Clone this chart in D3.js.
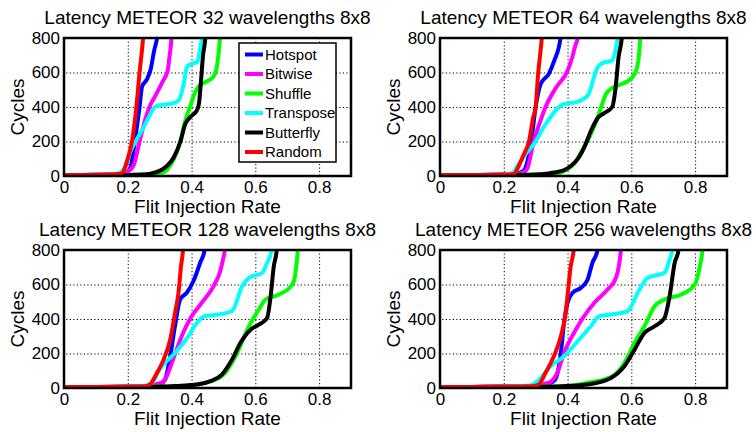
<!DOCTYPE html>
<html>
<head>
<meta charset="utf-8">
<style>
body { margin: 0; background: #fff; }
svg { font-family: "Liberation Sans", Arial, Helvetica, sans-serif; display: block; }
.grid line { stroke: #000; stroke-width: 1; stroke-dasharray: 1.2,2.3; }
.grid path { display: none; }
.box { fill: none; stroke: #000; stroke-width: 2.5; }
.series { fill: none; stroke-width: 4; stroke-linejoin: round; stroke-linecap: butt; }
.tick text { font-family: "Liberation Sans", Arial, Helvetica, sans-serif; font-size: 17px; fill: #000; }
.title, .xlabel, .ylabel { font-size: 19px; fill: #000; }
.legend text { font-size: 15px; fill: #000; }
</style>
</head>
<body>
<script src="https://d3js.org/d3.v7.min.js"></script>
<script>
// series names + colours (legend order = draw order)
var names = ["Hotspot", "Bitwise", "Shuffle", "Transpose", "Butterfly", "Random"];
var colors = ["#0000ff", "#ff00ff", "#00ff00", "#00ffff", "#000000", "#ff0000"];
var wavelengths = [32, 64, 128, 256];
var xTicks = [0, 0.2, 0.4, 0.6, 0.8];
var yTicks = [0, 200, 400, 600, 800];

// ---- 32 wavelengths ----
var hotspot32 = [[0,5],[0.1,7],[0.18,12],[0.2,25],[0.21,60],[0.222,200],[0.237,400],[0.245,520],[0.26,560],[0.272,620],[0.282,720],[0.292,800],[0.3,900]];
var bitwise32 = [[0,5],[0.1,7],[0.18,12],[0.2,25],[0.218,60],[0.237,200],[0.255,330],[0.268,400],[0.288,470],[0.31,550],[0.325,610],[0.33,680],[0.337,800],[0.34,900]];
var shuffle32 = [[0,3],[0.1,4],[0.2,6],[0.28,10],[0.31,20],[0.325,40],[0.345,100],[0.365,200],[0.38,320],[0.395,400],[0.41,480],[0.425,525],[0.45,550],[0.47,580],[0.48,640],[0.489,800],[0.492,900]];
var transpose32 = [[0,5],[0.1,7],[0.17,15],[0.19,50],[0.21,150],[0.224,200],[0.24,250],[0.266,340],[0.285,400],[0.3,410],[0.34,420],[0.36,440],[0.375,530],[0.385,630],[0.4,650],[0.418,660],[0.425,720],[0.432,800],[0.436,900]];
var butterfly32 = [[0,3],[0.1,4],[0.2,6],[0.26,10],[0.28,18],[0.3,30],[0.323,58],[0.344,107],[0.365,200],[0.38,300],[0.395,340],[0.418,385],[0.424,430],[0.43,560],[0.436,700],[0.443,800],[0.446,900]];
var random32 = [[0,5],[0.05,6],[0.1,7],[0.15,10],[0.18,15],[0.2,100],[0.213,200],[0.227,400],[0.237,600],[0.248,800],[0.252,900]];

// ---- 64 wavelengths ----
var hotspot64 = [[0,5],[0.1,6],[0.2,8],[0.24,15],[0.262,30],[0.268,48],[0.286,200],[0.3,400],[0.315,530],[0.342,595],[0.358,667],[0.378,800],[0.384,900]];
var bitwise64 = [[0,5],[0.1,6],[0.2,8],[0.25,14],[0.265,25],[0.273,40],[0.294,200],[0.315,320],[0.331,400],[0.363,510],[0.4,610],[0.415,690],[0.425,760],[0.432,800],[0.436,900]];
var shuffle64 = [[0,3],[0.1,4],[0.2,5],[0.3,8],[0.35,12],[0.38,20],[0.4,40],[0.42,70],[0.44,130],[0.473,242],[0.494,338],[0.505,396],[0.52,474],[0.542,512],[0.568,532],[0.59,551],[0.61,590],[0.622,670],[0.628,800],[0.631,900]];
var transpose64 = [[0,5],[0.1,6],[0.2,9],[0.23,20],[0.24,50],[0.268,126],[0.294,184],[0.331,300],[0.368,390],[0.385,415],[0.43,430],[0.463,465],[0.494,630],[0.51,655],[0.54,670],[0.552,745],[0.557,800],[0.56,900]];
var butterfly64 = [[0,3],[0.1,4],[0.2,5],[0.3,8],[0.34,15],[0.358,20],[0.39,35],[0.41,58],[0.431,96],[0.452,165],[0.473,260],[0.494,335],[0.515,365],[0.54,400],[0.55,500],[0.56,690],[0.57,800],[0.574,900]];
var random64 = [[0,5],[0.1,6],[0.2,8],[0.232,12],[0.245,50],[0.263,126],[0.279,200],[0.292,338],[0.3,400],[0.308,600],[0.315,720],[0.319,800],[0.322,900]];

// ---- 128 wavelengths ----
var hotspot128 = [[0,5],[0.1,6],[0.2,8],[0.28,12],[0.305,25],[0.317,48],[0.333,184],[0.348,358],[0.364,513],[0.385,552],[0.406,620],[0.427,726],[0.441,800],[0.447,900]];
var bitwise128 = [[0,5],[0.1,6],[0.2,8],[0.26,12],[0.29,22],[0.31,35],[0.32,60],[0.338,145],[0.369,300],[0.396,403],[0.432,494],[0.469,591],[0.49,678],[0.498,740],[0.504,800],[0.507,900]];
var shuffle128 = [[0,3],[0.1,4],[0.2,5],[0.3,8],[0.4,15],[0.45,35],[0.495,68],[0.538,184],[0.58,358],[0.611,455],[0.632,513],[0.674,542],[0.716,600],[0.726,668],[0.733,800],[0.736,900]];
var transpose128 = [[0,5],[0.1,6],[0.2,8],[0.26,15],[0.28,39],[0.3,110],[0.317,145],[0.348,203],[0.39,300],[0.417,378],[0.443,417],[0.485,426],[0.527,446],[0.559,591],[0.58,639],[0.622,668],[0.637,726],[0.651,800],[0.655,900]];
var butterfly128 = [[0,3],[0.1,4],[0.2,5],[0.3,8],[0.35,12],[0.417,20],[0.46,40],[0.495,78],[0.527,165],[0.553,261],[0.585,338],[0.611,367],[0.637,406],[0.648,532],[0.658,707],[0.667,800],[0.67,900]];
var random128 = [[0,5],[0.1,6],[0.2,8],[0.255,10],[0.272,25],[0.286,68],[0.312,163],[0.333,280],[0.348,434],[0.359,552],[0.367,707],[0.373,800],[0.376,900]];

// ---- 256 wavelengths ----
var hotspot256 = [[0,5],[0.1,6],[0.2,8],[0.3,12],[0.34,25],[0.36,45],[0.379,203],[0.389,378],[0.4,494],[0.416,552],[0.442,581],[0.463,629],[0.478,726],[0.494,800],[0.5,900]];
var bitwise256 = [[0,5],[0.1,6],[0.2,8],[0.3,12],[0.33,25],[0.35,40],[0.368,88],[0.389,203],[0.42,319],[0.447,403],[0.484,494],[0.526,572],[0.552,639],[0.562,720],[0.567,800],[0.57,900]];
var shuffle256 = [[0,3],[0.1,4],[0.2,5],[0.3,7],[0.4,12],[0.462,30],[0.541,68],[0.578,145],[0.61,261],[0.641,358],[0.673,474],[0.704,513],[0.757,542],[0.799,600],[0.815,707],[0.823,800],[0.826,900]];
var transpose256 = [[0,5],[0.1,6],[0.2,8],[0.28,14],[0.305,39],[0.347,126],[0.389,184],[0.436,280],[0.473,358],[0.5,417],[0.536,426],[0.589,446],[0.62,552],[0.652,639],[0.704,668],[0.72,745],[0.728,800],[0.731,900]];
var butterfly256 = [[0,3],[0.1,4],[0.2,5],[0.3,7],[0.4,12],[0.462,20],[0.536,58],[0.578,126],[0.61,222],[0.641,319],[0.673,358],[0.704,406],[0.72,532],[0.736,726],[0.748,800],[0.751,900]];
var random256 = [[0,5],[0.1,6],[0.2,8],[0.29,10],[0.31,20],[0.331,88],[0.357,184],[0.379,300],[0.394,434],[0.402,572],[0.41,707],[0.419,800],[0.422,900]];

var panelData = [
  [hotspot32, bitwise32, shuffle32, transpose32, butterfly32, random32],
  [hotspot64, bitwise64, shuffle64, transpose64, butterfly64, random64],
  [hotspot128, bitwise128, shuffle128, transpose128, butterfly128, random128],
  [hotspot256, bitwise256, shuffle256, transpose256, butterfly256, random256]
];

(function() {
  var W = 756, H = 432,
      w = 287, h = 138,
      lefts = [64, 440],
      tops = [38, 250];

  var svg = d3.select("body").append("svg")
    .attr("width", W)
    .attr("height", H);

  svg.append("rect").attr("width", W).attr("height", H).attr("fill", "#fff");

  var x = d3.scaleLinear().domain([0, 0.9]).range([0, w]);
  var y = d3.scaleLinear().domain([0, 800]).range([h, 0]);

  var line = d3.line()
    .x(function(d) { return x(d[0]); })
    .y(function(d) { return y(d[1]); })
    .curve(d3.curveMonotoneX);

  svg.append("defs").append("clipPath").attr("id", "plotclip")
    .append("rect").attr("width", w).attr("height", h);

  panelData.forEach(function(series, p) {
    var g = svg.append("g")
      .attr("transform", "translate(" + lefts[p % 2] + "," + tops[Math.floor(p / 2)] + ")");

    g.append("rect").attr("width", w).attr("height", h).attr("fill", "#fff");

    // dotted grid
    g.append("g").attr("class", "grid")
      .call(d3.axisBottom(x).tickValues([0.2, 0.4, 0.6, 0.8]).tickSize(h).tickFormat(""));
    g.append("g").attr("class", "grid")
      .attr("transform", "translate(" + w + ",0)")
      .call(d3.axisLeft(y).tickValues([200, 400, 600]).tickSize(w).tickFormat(""));

    // curves
    var plot = g.append("g").attr("clip-path", "url(#plotclip)");
    series.forEach(function(pts, i) {
      plot.append("path")
        .attr("class", "series")
        .attr("stroke", colors[i])
        .attr("d", line(pts));
    });

    g.append("rect").attr("class", "box").attr("width", w).attr("height", h);

    // tick labels
    var xa = g.append("g").attr("transform", "translate(0," + h + ")")
      .call(d3.axisBottom(x).tickValues(xTicks).tickSize(0).tickPadding(5)
        .tickFormat(function(d) { return d === 0 ? "0" : d3.format(".1f")(d); }));
    xa.select(".domain").remove();
    var ya = g.append("g")
      .call(d3.axisLeft(y).tickValues(yTicks).tickSize(0).tickPadding(4));
    ya.select(".domain").remove();
    xa.attr("font-family", null).attr("font-size", null);
    ya.attr("font-family", null).attr("font-size", null);

    g.append("text").attr("class", "title")
      .attr("x", w / 2).attr("y", -14.5)
      .attr("text-anchor", "middle")
      .text("Latency METEOR " + wavelengths[p] + " wavelengths 8x8");

    g.append("text").attr("class", "xlabel")
      .attr("x", w / 2).attr("y", h + 36.5)
      .attr("text-anchor", "middle")
      .text("Flit Injection Rate");

    g.append("text").attr("class", "ylabel")
      .attr("transform", "translate(-40," + (h / 2) + ") rotate(-90)")
      .attr("text-anchor", "middle")
      .text("Cycles");

    // legend only in first panel
    if (p === 0) {
      var lg = g.append("g").attr("class", "legend").attr("transform", "translate(175,5)");
      lg.append("rect").attr("width", 97).attr("height", 119)
        .attr("fill", "#fff").attr("stroke", "#000").attr("stroke-width", 1.5);
      names.forEach(function(n, i) {
        var ry = 11.5 + i * 19.5;
        lg.append("line").attr("x1", 6).attr("x2", 24).attr("y1", ry).attr("y2", ry)
          .attr("stroke", colors[i]).attr("stroke-width", 4);
        lg.append("text").attr("x", 26).attr("y", ry).attr("dy", "0.35em").text(n);
      });
    }
  });
})();
</script>
</body>
</html>
